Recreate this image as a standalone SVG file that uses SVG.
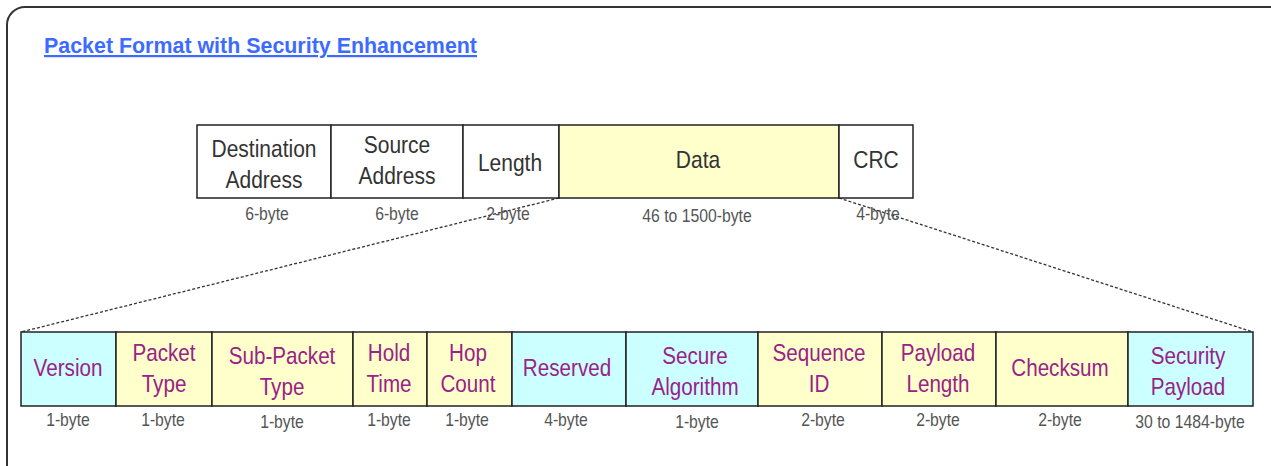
<svg xmlns="http://www.w3.org/2000/svg" width="1271" height="466" viewBox="0 0 1271 466">
<style>
.frame{fill:#fff;stroke:#333;stroke-width:2}
.box{stroke:#222;stroke-width:1.5}
.w{fill:#fff}
.y{fill:#ffffcc}
.c{fill:#ccffff}
.t{font-family:"Liberation Sans",Arial,sans-serif;font-size:24px;fill:#333;text-anchor:middle}
.p{font-family:"Liberation Sans",Arial,sans-serif;font-size:24px;fill:#992288;text-anchor:middle}
.b{font-family:"Liberation Sans",Arial,sans-serif;font-size:17.5px;fill:#555;text-anchor:middle}
.title{font-family:"Liberation Sans",Arial,sans-serif;font-size:22px;font-weight:bold;fill:#3d6bff;text-decoration:underline}
.dot{stroke:#333;stroke-width:1.3;stroke-dasharray:3 2;fill:none}
</style>
<rect class="frame" x="7" y="7" width="1290" height="480" rx="18"/>
<text class="title" x="44" y="53" textLength="433" lengthAdjust="spacingAndGlyphs">Packet Format with Security Enhancement</text>
<g id="connectors">
<line class="dot" x1="559" y1="198" x2="21" y2="332"/>
<line class="dot" x1="839" y1="198" x2="1253" y2="332"/>
</g>
<g id="dest"><rect class="box w" x="197" y="125" width="134" height="73"/><text class="t" transform="translate(264 157) scale(0.875 1)">Destination</text><text class="t" transform="translate(264 188) scale(0.875 1)">Address</text><text class="b" transform="translate(267 220) scale(0.9 1)">6-byte</text></g>
<g id="src"><rect class="box w" x="331" y="125" width="132" height="73"/><text class="t" transform="translate(397 153) scale(0.875 1)">Source</text><text class="t" transform="translate(397 184) scale(0.875 1)">Address</text><text class="b" transform="translate(397 220) scale(0.9 1)">6-byte</text></g>
<g id="len"><rect class="box w" x="463" y="125" width="96" height="73"/><text class="t" transform="translate(510 171) scale(0.875 1)">Length</text><text class="b" transform="translate(508 220) scale(0.9 1)">2-byte</text></g>
<g id="data"><rect class="box y" x="559" y="125" width="280" height="73"/><text class="t" transform="translate(698 168) scale(0.875 1)">Data</text><text class="b" transform="translate(697 222) scale(0.9 1)">46 to 1500-byte</text></g>
<g id="crc"><rect class="box w" x="839" y="125" width="74" height="73"/><text class="t" transform="translate(876 168) scale(0.875 1)">CRC</text><text class="b" transform="translate(878 220) scale(0.9 1)">4-byte</text></g>

<g id="version"><rect class="box c" x="21" y="332" width="95" height="74"/><text class="p" transform="translate(68 376) scale(0.86 1)">Version</text><text class="b" transform="translate(68 426) scale(0.9 1)">1-byte</text></g>
<g id="ptype"><rect class="box y" x="116" y="332" width="96" height="74"/><text class="p" transform="translate(164 361) scale(0.86 1)">Packet</text><text class="p" transform="translate(164 392) scale(0.86 1)">Type</text><text class="b" transform="translate(163 426) scale(0.9 1)">1-byte</text></g>
<g id="subptype"><rect class="box y" x="212" y="332" width="141" height="74"/><text class="p" transform="translate(282 364) scale(0.86 1)">Sub-Packet</text><text class="p" transform="translate(282 395) scale(0.86 1)">Type</text><text class="b" transform="translate(282 428) scale(0.9 1)">1-byte</text></g>
<g id="hold"><rect class="box y" x="353" y="332" width="74" height="74"/><text class="p" transform="translate(389 361) scale(0.86 1)">Hold</text><text class="p" transform="translate(389 392) scale(0.86 1)">Time</text><text class="b" transform="translate(389 426) scale(0.9 1)">1-byte</text></g>
<g id="hop"><rect class="box y" x="427" y="332" width="85" height="74"/><text class="p" transform="translate(468 361) scale(0.86 1)">Hop</text><text class="p" transform="translate(468 392) scale(0.86 1)">Count</text><text class="b" transform="translate(467 426) scale(0.9 1)">1-byte</text></g>
<g id="reserved"><rect class="box c" x="512" y="332" width="114" height="74"/><text class="p" transform="translate(567 376) scale(0.86 1)">Reserved</text><text class="b" transform="translate(566 426) scale(0.9 1)">4-byte</text></g>
<g id="secalg"><rect class="box c" x="626" y="332" width="132" height="74"/><text class="p" transform="translate(695 364) scale(0.86 1)">Secure</text><text class="p" transform="translate(695 395) scale(0.86 1)">Algorithm</text><text class="b" transform="translate(697 428) scale(0.9 1)">1-byte</text></g>
<g id="seqid"><rect class="box y" x="758" y="332" width="124" height="74"/><text class="p" transform="translate(819 361) scale(0.86 1)">Sequence</text><text class="p" transform="translate(819 392) scale(0.86 1)">ID</text><text class="b" transform="translate(823 426) scale(0.9 1)">2-byte</text></g>
<g id="plen"><rect class="box y" x="882" y="332" width="114" height="74"/><text class="p" transform="translate(938 361) scale(0.86 1)">Payload</text><text class="p" transform="translate(938 392) scale(0.86 1)">Length</text><text class="b" transform="translate(938 426) scale(0.9 1)">2-byte</text></g>
<g id="checksum"><rect class="box y" x="996" y="332" width="132" height="74"/><text class="p" transform="translate(1060 376) scale(0.86 1)">Checksum</text><text class="b" transform="translate(1060 426) scale(0.9 1)">2-byte</text></g>
<g id="secpay"><rect class="box c" x="1128" y="332" width="125" height="74"/><text class="p" transform="translate(1188 364) scale(0.86 1)">Security</text><text class="p" transform="translate(1188 395) scale(0.86 1)">Payload</text><text class="b" transform="translate(1190 428) scale(0.9 1)">30 to 1484-byte</text></g>
</svg>
